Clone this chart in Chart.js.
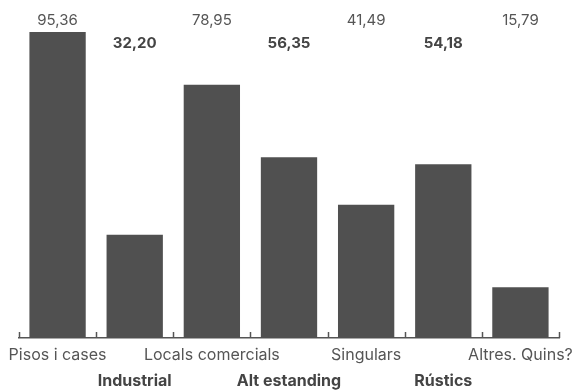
<!DOCTYPE html>
<html>
<head>
<meta charset="utf-8">
<script src="https://cdn.jsdelivr.net/npm/chart.js@4"></script>
<style>
html,body{margin:0;padding:0;background:#fff;}
#wrap{width:579px;height:391px;}
</style>
</head>
<body>
<div id="wrap"><canvas id="c" width="579" height="391"></canvas></div>
<script>
const categories = ["Pisos i cases","Industrial","Locals comercials","Alt estanding","Singulars","Rústics","Altres. Quins?"];
const values = [95.36, 32.20, 78.95, 56.35, 41.49, 54.18, 15.79];
const valueLabels = ["95,36","32,20","78,95","56,35","41,49","54,18","15,79"];

const FONT = "Inter, 'Noto Sans', sans-serif";
const labels = categories.map((c,i) => i % 2 === 0 ? c : ["", c]);

const extras = {
  id: 'extras',
  afterDatasetsDraw(chart) {
    const ctx = chart.ctx;
    const xs = chart.scales.x;
    const area = chart.chartArea;
    const half = (xs.getPixelForValue(1) - xs.getPixelForValue(0)) / 2;
    ctx.save();
    ctx.strokeStyle = '#555';
    ctx.lineWidth = 1.5;
    for (let i = 0; i <= categories.length; i++) {
      const x = Math.round(xs.getPixelForValue(i) - half) + 0.5;
      ctx.beginPath();
      ctx.moveTo(x, area.bottom);
      ctx.lineTo(x, area.bottom - 6);
      ctx.stroke();
    }
    ctx.textAlign = 'center';
    ctx.textBaseline = 'middle';
    valueLabels.forEach((t, i) => {
      const x = xs.getPixelForValue(i);
      if (i % 2 === 0) {
        ctx.font = "400 15px " + FONT;
        ctx.fillStyle = '#555';
        ctx.fillText(t, x, area.top - 12);
      } else {
        ctx.font = "700 15px " + FONT;
        ctx.fillStyle = '#444';
        ctx.fillText(t, x, area.top + 11);
      }
    });
    ctx.restore();
  }
};

new Chart(document.getElementById('c'), {
  type: 'bar',
  data: {
    labels: labels,
    datasets: [{
      data: values,
      backgroundColor: '#505050',
      borderWidth: 0,
      barPercentage: 0.73,
      categoryPercentage: 1.0
    }]
  },
  options: {
    responsive: false,
    animation: false,
    devicePixelRatio: 1,
    layout: { padding: { left: 19, right: 20, top: 32, bottom: 0 } },
    plugins: { legend: { display: false }, tooltip: { enabled: false } },
    scales: {
      y: { display: false, min: 0, max: Math.max(...values) },
      x: {
        grid: { display: false, drawTicks: false },
        border: { display: true, color: '#555', width: 1.5 },
        afterFit(scale) { scale.paddingLeft = 0; scale.paddingRight = 0; scale.height = 53; },
        ticks: {
          autoSkip: false,
          maxRotation: 0,
          minRotation: 0,
          padding: 5,
          color: (ctx) => ctx.index % 2 === 0 ? '#555' : '#444',
          font: (ctx) => ({ family: FONT, size: 16, weight: ctx.index % 2 === 0 ? '400' : '700', lineHeight: 1.58 })
        }
      }
    }
  },
  plugins: [extras]
});
</script>
</body>
</html>
